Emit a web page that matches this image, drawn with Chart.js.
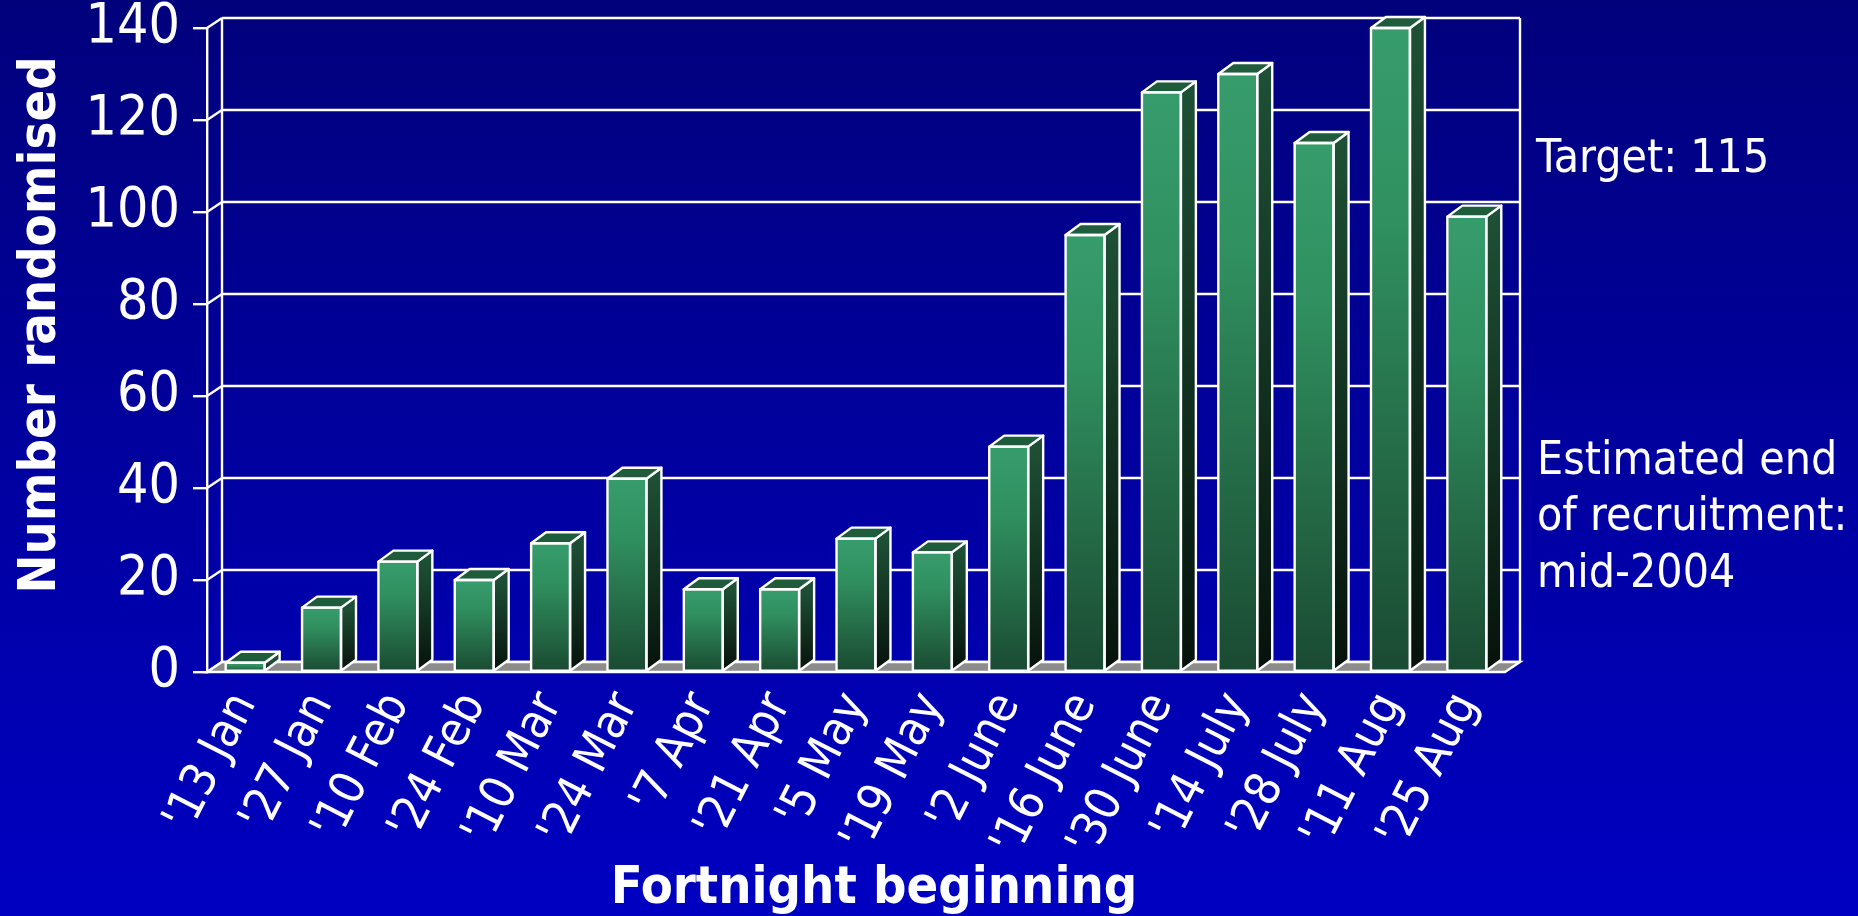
<!DOCTYPE html>
<html>
<head>
<meta charset="utf-8">
<script src="https://cdn.jsdelivr.net/npm/chart.js@4.4.1/dist/chart.umd.min.js"></script>
<style>
  html, body { margin: 0; padding: 0; width: 1858px; height: 916px; overflow: hidden; background: #0000a0; }
  #wrap { position: relative; width: 1858px; height: 916px; }
  canvas { display: block; }
</style>
</head>
<body>
<div id="wrap"><canvas id="c" width="1858" height="916"></canvas></div>
<script>
// ---- data ----
const categories = ["'13 Jan", "'27 Jan", "'10 Feb", "'24 Feb", "'10 Mar", "'24 Mar", "'7 Apr", "'21 Apr",
                    "'5 May", "'19 May", "'2 June", "'16 June", "'30 June", "'14 July", "'28 July", "'11 Aug", "'25 Aug"];
const randomised = [2, 14, 24, 20, 28, 42, 18, 18, 29, 26, 49, 95, 126, 130, 115, 140, 99];
const yTickValues = [0, 20, 40, 60, 80, 100, 120, 140];
const yTitle = 'Number randomised';
const xTitle = 'Fortnight beginning';
const targetNote = 'Target: 115';
const endNote = ['Estimated end', 'of recruitment:', 'mid-2004'];

// ---- style ----
const FONT = "'DejaVu Sans Condensed', 'DejaVu Sans', sans-serif";
const WALL_DX = 15, WALL_DY = -10;
const BAR_DX = 15, BAR_DY = -11;
const LINE_W = 2.4;

const backgroundPlugin = {
  id: 'bg',
  beforeDraw(chart) {
    const { ctx, width, height } = chart;
    const g = ctx.createLinearGradient(0, 0, 0, height);
    g.addColorStop(0, '#01017c');
    g.addColorStop(1, '#0000c2');
    ctx.save();
    ctx.fillStyle = g;
    ctx.fillRect(0, 0, width, height);
    ctx.restore();
  }
};

const wallPlugin = {
  id: 'wall',
  beforeDatasetsDraw(chart) {
    const { ctx, chartArea: a, scales } = chart;
    const y = scales.y;
    const L = a.left, R = a.right, B = a.bottom;
    ctx.save();
    ctx.strokeStyle = '#ffffff';
    ctx.lineWidth = LINE_W;
    yTickValues.forEach(v => {
      const py = y.getPixelForValue(v);
      ctx.beginPath();
      ctx.moveTo(L + WALL_DX, py + WALL_DY);
      ctx.lineTo(R + WALL_DX, py + WALL_DY);
      ctx.moveTo(L, py);
      ctx.lineTo(L + WALL_DX, py + WALL_DY);
      ctx.stroke();
    });
    const top = y.getPixelForValue(yTickValues[yTickValues.length - 1]);
    ctx.beginPath();
    ctx.moveTo(L + WALL_DX, top + WALL_DY);
    ctx.lineTo(L + WALL_DX, B + WALL_DY);
    ctx.moveTo(R + WALL_DX, top + WALL_DY);
    ctx.lineTo(R + WALL_DX, B + WALL_DY);
    ctx.stroke();
    // floor
    ctx.beginPath();
    ctx.moveTo(L, B);
    ctx.lineTo(R, B);
    ctx.lineTo(R + WALL_DX, B + WALL_DY);
    ctx.lineTo(L + WALL_DX, B + WALL_DY);
    ctx.closePath();
    ctx.fillStyle = '#8c8c8c';
    ctx.fill();
    ctx.stroke();
    ctx.restore();
  },
  afterDatasetsDraw(chart) {
    const { ctx } = chart;
    const meta = chart.getDatasetMeta(0);
    ctx.save();
    ctx.strokeStyle = '#ffffff';
    ctx.lineWidth = LINE_W;
    ctx.lineJoin = 'round';
    meta.data.forEach(el => {
      const p = el.getProps(['x', 'y', 'base', 'width'], true);
      const xl = p.x - p.width / 2, xr = p.x + p.width / 2;
      const yt = p.y, yb = p.base;
      const sg = ctx.createLinearGradient(0, yt, 0, yb);
      sg.addColorStop(0, '#1e5035');
      sg.addColorStop(1, '#06120b');
      ctx.beginPath();
      ctx.moveTo(xr, yt);
      ctx.lineTo(xr + BAR_DX, yt + BAR_DY);
      ctx.lineTo(xr + BAR_DX, yb + BAR_DY);
      ctx.lineTo(xr, yb);
      ctx.closePath();
      ctx.fillStyle = sg;
      ctx.fill();
      ctx.stroke();
      ctx.beginPath();
      ctx.moveTo(xl, yt);
      ctx.lineTo(xl + BAR_DX, yt + BAR_DY);
      ctx.lineTo(xr + BAR_DX, yt + BAR_DY);
      ctx.lineTo(xr, yt);
      ctx.closePath();
      ctx.fillStyle = '#1f5c3c';
      ctx.fill();
      ctx.stroke();
      ctx.strokeRect(xl, yt, xr - xl, yb - yt);
    });
    ctx.restore();
  }
};

const textPlugin = {
  id: 'texts',
  afterDraw(chart) {
    const { ctx } = chart;
    ctx.save();
    ctx.fillStyle = '#ffffff';
    ctx.font = `bold 52px ${FONT}`;
    ctx.textAlign = 'center';
    ctx.textBaseline = 'alphabetic';
    ctx.save();
    ctx.translate(55, 325);
    ctx.rotate(-Math.PI / 2);
    ctx.fillText(yTitle, 0, 0);
    ctx.restore();
    ctx.fillText(xTitle, 874, 903);
    ctx.font = `46px ${FONT}`;
    ctx.textAlign = 'left';
    ctx.fillText(targetNote, 1536, 172);
    const base = [474, 530, 587];
    endNote.forEach((t, i) => ctx.fillText(t, 1537, base[i]));
    ctx.restore();
  }
};

const frontGradient = (c) => {
  const chart = c.chart;
  const { ctx, chartArea, scales } = chart;
  if (!chartArea || !scales.y || c.raw === undefined) return '#2f8f5f';
  const yt = scales.y.getPixelForValue(c.raw);
  const yb = scales.y.getPixelForValue(0);
  if (!isFinite(yt) || yb - yt < 1) return '#2f8f5f';
  const g = ctx.createLinearGradient(0, yt, 0, yb);
  g.addColorStop(0, '#379c6c');
  g.addColorStop(0.3, '#30905f');
  g.addColorStop(1, '#1a4a32');
  return g;
};

new Chart(document.getElementById('c'), {
  type: 'bar',
  data: {
    labels: categories,
    datasets: [{
      data: randomised,
      backgroundColor: frontGradient,
      borderColor: '#ffffff',
      borderWidth: 0,
      barPercentage: 0.51,
      categoryPercentage: 1.0
    }]
  },
  options: {
    responsive: false,
    animation: false,
    devicePixelRatio: 1,
    layout: { padding: { left: 0, top: 28, right: 353, bottom: 0 } },
    plugins: { legend: { display: false }, tooltip: { enabled: false } },
    scales: {
      x: {
        grid: { display: false },
        border: { display: false },
        ticks: {
          color: '#ffffff',
          font: { family: FONT, size: 48 },
          minRotation: 63,
          maxRotation: 63,
          autoSkip: false,
          padding: 4
        },
        afterFit(scale) {
          scale.height = 244;
          scale.paddingLeft = 0; scale.paddingRight = 0;
        }
      },
      y: {
        min: 0,
        max: 140,
        ticks: {
          stepSize: 20,
          color: '#ffffff',
          font: { family: FONT, size: 55 },
          padding: 13
        },
        grid: {
          display: true,
          drawOnChartArea: false,
          drawTicks: true,
          tickLength: 14,
          color: '#ffffff',
          lineWidth: LINE_W
        },
        border: { display: true, color: '#ffffff', width: LINE_W },
        afterFit(scale) {
          scale.width = 207;
          scale.paddingTop = 0; scale.paddingBottom = 0;
        }
      }
    }
  },
  plugins: [backgroundPlugin, wallPlugin, textPlugin]
});
</script>
</body>
</html>
